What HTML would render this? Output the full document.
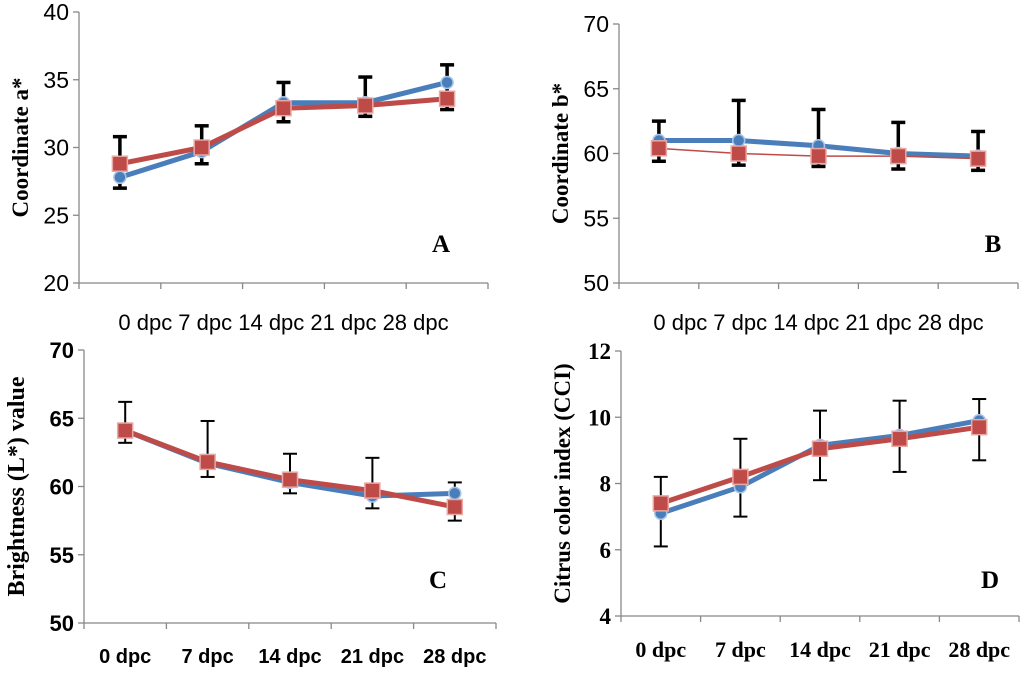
<!DOCTYPE html>
<html><head><meta charset="utf-8"><style>
body{margin:0;background:#fff;}
svg{display:block;}
</style></head><body>
<svg id="c" width="1024" height="674" viewBox="0 0 1024 674" xmlns="http://www.w3.org/2000/svg"></svg>
<script>
const categories = ["0 dpc","7 dpc","14 dpc","21 dpc","28 dpc"];
const aBlue = [27.8, 29.7, 33.3, 33.3, 34.8];
const aRed = [28.8, 30.0, 32.9, 33.1, 33.6];
const aErrHi = [30.8, 31.6, 34.8, 35.2, 36.1];
const aErrLo = [27.0, 28.8, 31.9, 32.3, 32.8];
const aTicks = [20, 25, 30, 35, 40];
const bBlue = [61.0, 61.0, 60.6, 60.0, 59.8];
const bRed = [60.4, 60.0, 59.8, 59.8, 59.6];
const bErrHi = [62.5, 64.1, 63.4, 62.4, 61.7];
const bErrLo = [59.4, 59.1, 59.0, 58.8, 58.7];
const bTicks = [50, 55, 60, 65, 70];
const cBlue = [64.1, 61.7, 60.3, 59.3, 59.5];
const cRed = [64.1, 61.8, 60.5, 59.7, 58.5];
const cErrHi = [66.2, 64.8, 62.4, 62.1, 60.3];
const cErrLo = [63.2, 60.7, 59.5, 58.4, 57.5];
const cTicks = [50, 55, 60, 65, 70];
const dBlue = [7.1, 7.9, 9.15, 9.45, 9.9];
const dRed = [7.4, 8.2, 9.05, 9.35, 9.7];
const dErrHi = [8.2, 9.35, 10.2, 10.5, 10.55];
const dErrLo = [6.1, 7.0, 8.1, 8.35, 8.7];
const dTicks = [4, 6, 8, 10, 12];

const svg = document.getElementById('c');
const NS = 'http://www.w3.org/2000/svg';
function mk(tag, attrs, parent){ const e=document.createElementNS(NS,tag); for(const k in attrs) e.setAttribute(k,attrs[k]); (parent||svg).appendChild(e); return e; }

function panel(p){
  const g = mk('g',{});
  
  
  const ymin=p.ticks[0], ymax=p.ticks[p.ticks.length-1];
  const y = v => p.bottom - (v-ymin)/(ymax-ymin)*(p.bottom-p.top);
  const step=(p.right-p.left)/categories.length;
  const x = i => p.left + step*(i+0.5);
  mk('line',{x1:p.left,y1:p.top,x2:p.left,y2:p.bottom,stroke:'#888','stroke-width':1.3},g);
  mk('line',{x1:p.left,y1:p.bottom,x2:p.right,y2:p.bottom,stroke:'#888','stroke-width':1.3},g);
  p.ticks.forEach(t=>{
    mk('line',{x1:p.left-6,y1:y(t),x2:p.left,y2:y(t),stroke:'#888','stroke-width':1.3},g);
    const tx=mk('text',{x:p.left-10,y:y(t)+8,'text-anchor':'end','font-size':p.tickFs,'font-family':p.tickFont,'font-weight':p.tickBold?'bold':'normal',fill:'#000'},g);
    
    
    tx.textContent=t;
  });
  for(let i=0;i<=categories.length;i++){
    mk('line',{x1:p.left+step*i,y1:p.bottom,x2:p.left+step*i,y2:p.bottom+6,stroke:'#888','stroke-width':1.3},g);
  }
  if(p.joinedLabels){
    const tx=mk('text',{x:(x(0)+x(4))/2,y:p.labelY,'text-anchor':'middle','font-size':22,'font-family':'Liberation Sans, sans-serif',fill:'#000'},g);
    
    
    tx.textContent=categories.join(' ');
  } else {
    categories.forEach((c,i)=>{
      const tx=mk('text',{x:x(i),y:p.labelY,'text-anchor':'middle','font-size':p.labFs,'font-family':p.labFont,'font-weight':'bold',fill:'#000'},g);
      
      
      tx.textContent=c;
    });
  }
  const yt=mk('text',{x:0,y:0,transform:`translate(${p.titleX},${(p.top+p.bottom)/2}) rotate(-90)`,'text-anchor':'middle','font-size':p.titleFs,'font-family':'Liberation Serif, serif','font-weight':'bold',fill:'#000'},g);
  
  
  yt.textContent=p.title;
  const pl=mk('text',{x:p.letterX,y:p.letterY,'text-anchor':'middle','font-size':25,'font-family':'Liberation Serif, serif','font-weight':'bold',fill:'#000'},g);
  
  
  pl.textContent=p.id.toUpperCase();
  p.hi.forEach((h,i)=>{
    const xe=x(i);
    const eb=mk('g',{stroke:'#000','stroke-width':p.errW},g);
    
    
    mk('line',{x1:xe,y1:y(h),x2:xe,y2:y(p.lo[i])},eb);
    mk('line',{x1:xe-7,y1:y(h),x2:xe+7,y2:y(h)},eb);
    mk('line',{x1:xe-7,y1:y(p.lo[i]),x2:xe+7,y2:y(p.lo[i])},eb);
  });
  const series=[{v:p.blue,c:'#4a7ebb',w:5,n:'blue'},{v:p.red,c:'#be4b48',w:p.redW,n:'red'}];
  series.forEach(s=>{
    const pts=s.v.map((v,i)=>x(i)+','+y(v)).join(' ');
    const l=mk('polyline',{points:pts,fill:'none',stroke:s.c,'stroke-width':s.w,'stroke-linejoin':'round'},g);
    
    
    s.v.forEach((v,i)=>{
      let m;
      if(s.n==='blue') m=mk('circle',{cx:x(i),cy:y(v),r:6,fill:s.c,stroke:'#a8c4e8','stroke-width':1.5},g);
      else m=mk('rect',{x:x(i)-7.5,y:y(v)-7.5,width:15,height:15,fill:s.c,stroke:'#e8a8a6','stroke-width':1.5},g);
      
      
    });
  });
}
panel({id:'a',left:79,right:488,top:12,bottom:283,ticks:aTicks,blue:aBlue,red:aRed,hi:aErrHi,lo:aErrLo,tickFs:23,tickFont:'Liberation Sans, sans-serif',joinedLabels:true,labelY:330,title:'Coordinate a*',titleFs:23,titleX:28,letterX:441,letterY:252,errW:3.5,redW:5});
panel({id:'b',left:619,right:1018,top:24,bottom:283,ticks:bTicks,blue:bBlue,red:bRed,hi:bErrHi,lo:bErrLo,tickFs:23,tickFont:'Liberation Sans, sans-serif',joinedLabels:true,labelY:330,title:'Coordinate b*',titleFs:23,titleX:568,letterX:993,letterY:252,errW:3.5,redW:1.5});
panel({id:'c',left:84,right:496,top:350,bottom:623,ticks:cTicks,blue:cBlue,red:cRed,hi:cErrHi,lo:cErrLo,tickFs:22,tickFont:'Liberation Sans, sans-serif',tickBold:true,joinedLabels:false,labFs:20,labFont:'Liberation Sans, sans-serif',labelY:663,title:'Brightness (L*) value',titleFs:24,titleX:24,letterX:438,letterY:588,errW:2,redW:5});
panel({id:'d',left:621,right:1019,top:351,bottom:616,ticks:dTicks,blue:dBlue,red:dRed,hi:dErrHi,lo:dErrLo,tickFs:23,tickFont:'Liberation Serif, serif',tickBold:true,joinedLabels:false,labFs:22,labFont:'Liberation Serif, serif',labelY:657,title:'Citrus color index (CCI)',titleFs:23,titleX:570,letterX:990,letterY:588,errW:2,redW:5});
</script>
</body></html>
